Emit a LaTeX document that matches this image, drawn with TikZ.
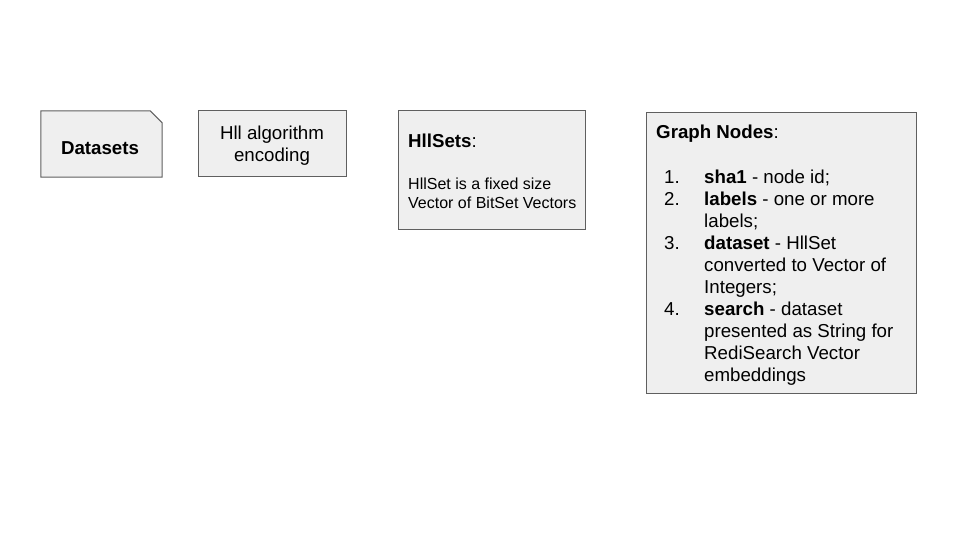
\documentclass[tikz,border=0pt]{standalone}
\usepackage{fontspec}
\setmainfont{Liberation Sans}
\definecolor{boxfill}{HTML}{EFEFEF}
\definecolor{boxline}{HTML}{5F5F5F}

\tikzset{
  box/.style={draw=boxline,fill=boxfill,line width=1pt,inner sep=0pt},
  bigtext/.style={font=\fontsize{18.7}{22}\selectfont,inner sep=0pt},
  smalltext/.style={font=\fontsize{16}{19}\selectfont,inner sep=0pt},
  line/.style={bigtext,anchor=base west}
}

\begin{document}
\begin{tikzpicture}[x=1pt,y=-1pt]
\useasboundingbox (0,0) rectangle (960,540);

% boxes
\node[inner sep=0pt,minimum width=121pt,minimum height=66pt] (datasets) at (101.5,144) {};
\draw[box] (datasets.north west) -- ([xshift=-12pt]datasets.north east)
  -- ([yshift=-12pt]datasets.north east) -- (datasets.south east)
  -- (datasets.south west) -- cycle;
\node[box,minimum width=148pt,minimum height=66pt] (hll) at (272,144) {};
\node[box,minimum width=187pt,minimum height=118pt] (hllsets) at (491.5,170) {};
\node[box,minimum width=270pt,minimum height=280pt] (graph) at (781,253) {};

% texts
\node[bigtext,font=\fontsize{18.7}{22}\selectfont\bfseries,anchor=base] (datasetslbl) at (100,154.5) {Datasets};
\node[bigtext,align=center] (hlllbl) at (272,146) {Hll algorithm\\encoding};

\node[line] (hllsetstitle) at (408,147.7) {\textbf{HllSets}:};
\node[smalltext,anchor=base west] (hllsetsa) at (408,189.5) {HllSet is a fixed size};
\node[smalltext,anchor=base west] (hllsetsb) at (408,208.5) {Vector of BitSet Vectors};

\node[line] (graphtitle) at (656,138.7) {\textbf{Graph Nodes}:};
\node[line] (numa) at (664,183) {1.};
\node[line] (numb) at (664,205) {2.};
\node[line] (numc) at (664,249) {3.};
\node[line] (numd) at (664,315) {4.};
\node[line] (la) at (704,183) {\textbf{sha1} - node id;};
\node[line] (lb) at (704,205) {\textbf{labels} - one or more};
\node[line] (lc) at (704,227) {labels;};
\node[line] (ld) at (704,249) {\textbf{dataset} - HllSet};
\node[line] (le) at (704,271) {converted to Vector of};
\node[line] (lf) at (704,293) {Integers;};
\node[line] (lg) at (704,315) {\textbf{search} - dataset};
\node[line] (lh) at (704,337) {presented as String for};
\node[line] (li) at (704,359) {RediSearch Vector};
\node[line] (lj) at (704,381) {embeddings};
\end{tikzpicture}
\end{document}
